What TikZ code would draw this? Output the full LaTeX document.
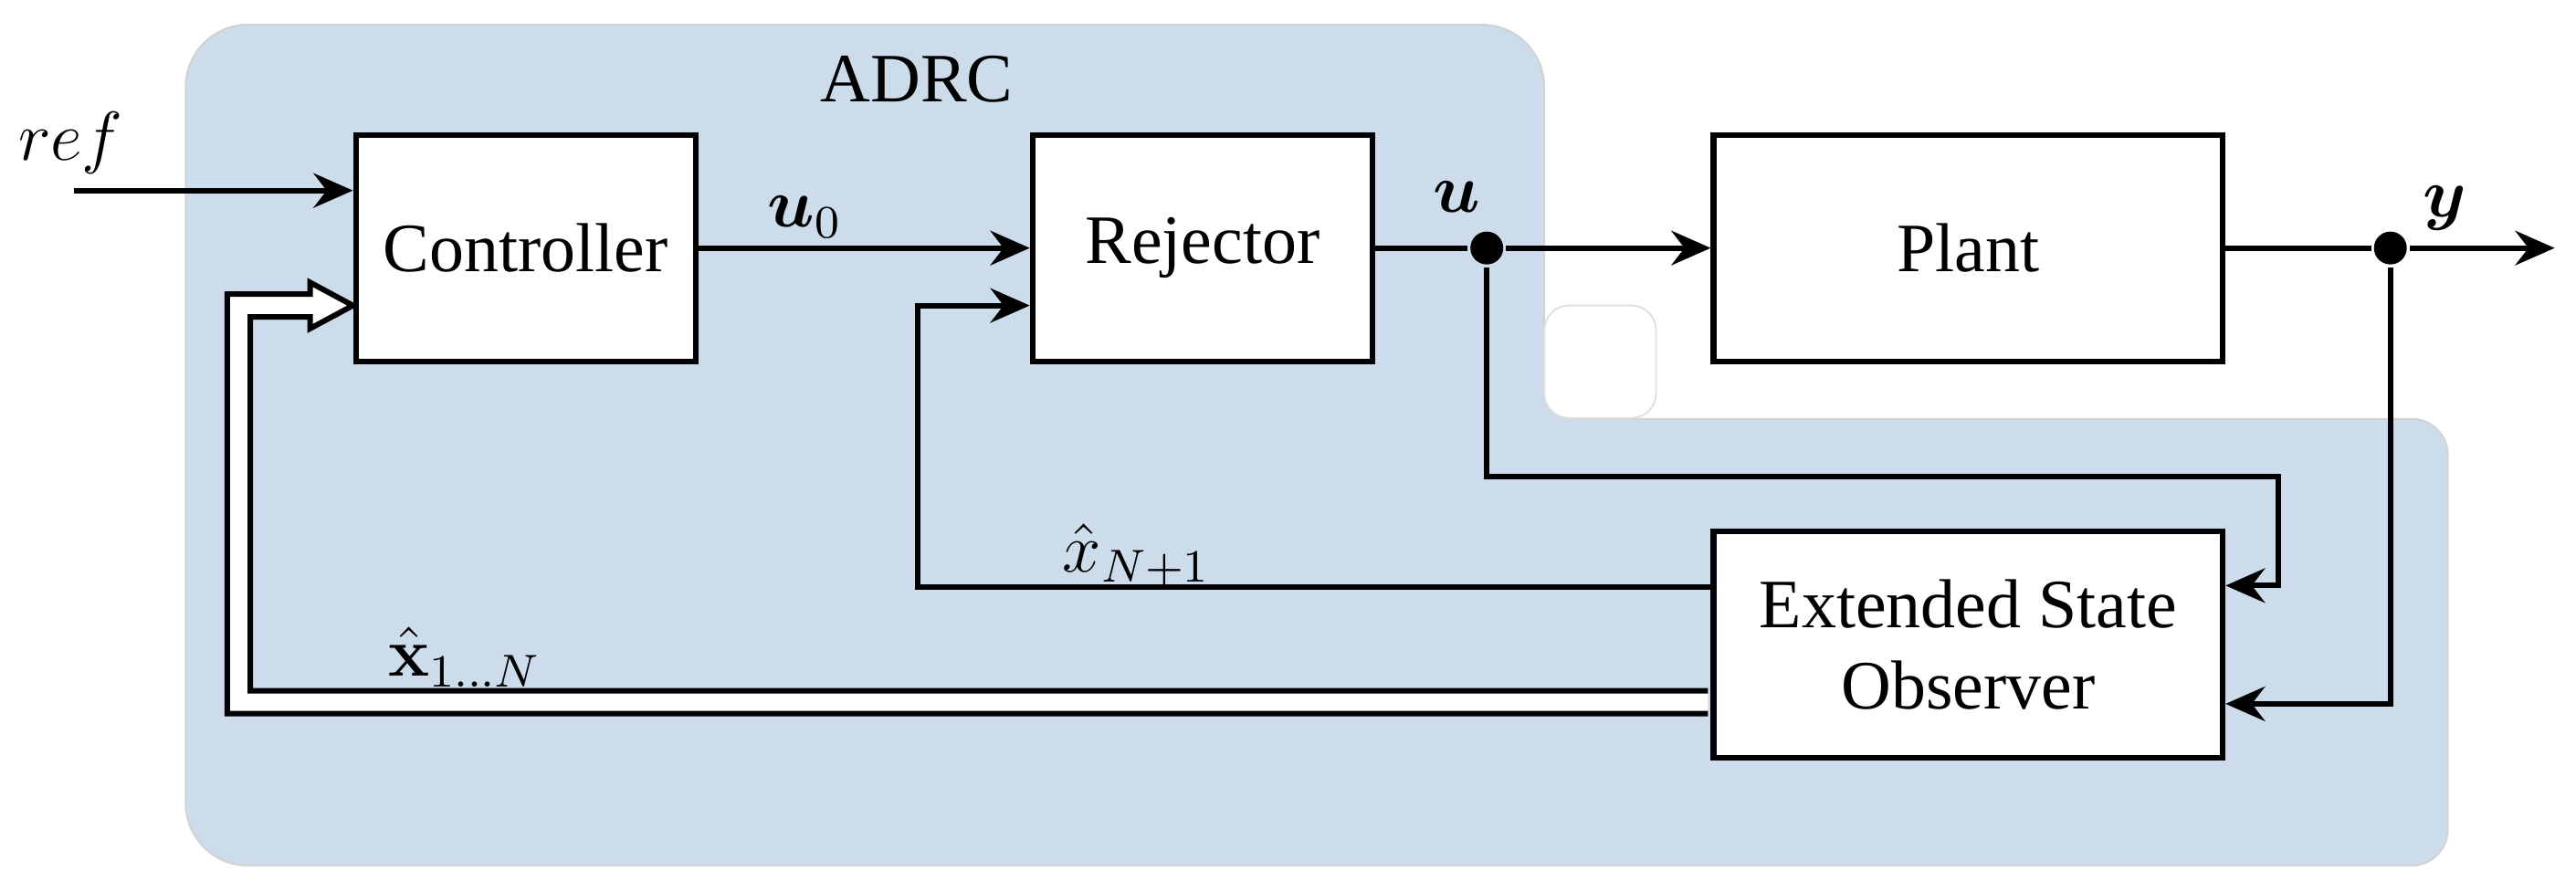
\documentclass[tikz,border=0pt]{standalone}
\usepackage[no-math]{fontspec}
\setmainfont{Liberation Serif}
\usepackage{amsmath,amssymb,bm}
\usepackage{xcolor}
\usepackage{tikz}
\usetikzlibrary{arrows.meta,positioning,calc}
\definecolor{adrcblue}{RGB}{204,220,234}

\begin{document}
\begin{tikzpicture}[
  >={Stealth[length=2.4mm,width=2.1mm,inset=0.8mm]},
  font=\fontsize{12}{14.2}\selectfont,
  line width=0.95pt,
  block/.style={draw, fill=white, line width=0.95pt, minimum height=1.38cm,
                minimum width=#1, align=center},
  dot/.style={circle, fill=black, inner sep=0pt, minimum size=0.2cm},
]
\useasboundingbox (0,0) rectangle (15.68,5.43);

%─── ADRC region ─────────────────────────────────────────────────────────────
\filldraw[fill=adrcblue, draw=gray!35, line width=0.3pt, rounded corners=0.38cm]
      (1.13,2.5) -- (1.13,5.28) -- (9.40,5.28) -- (9.40,3.3)
      [sharp corners] -- (9.40,2.88) [rounded corners=0.22cm] -- (14.90,2.88)
      -- (14.90,0.16) [rounded corners=0.38cm] -- (1.13,0.16) -- cycle;
% inner corner patch
\fill[adrcblue] (9.39,2.87) rectangle (9.58,3.06);
\filldraw[fill=white, draw=gray!25, line width=0.3pt, rounded corners=0.15cm]
      (9.40,2.885) rectangle (10.08,3.57);
\node (adrclbl) at (5.58,4.95) {ADRC};

%─── Blocks ──────────────────────────────────────────────────────────────────
\node[block=2.07cm] (ctrl)  at (3.20,3.92)  {Controller};
\node[block=2.07cm] (rej)   at (7.32,3.92)  {Rejector};
\node[block=3.10cm] (plant) at (11.98,3.92) {Plant};
\node[block=3.10cm] (eso)   at (11.98,1.505) {Extended State\\Observer};

% branch points and free ends
\node[dot] (udot) at (9.05,3.92) {};
\node[dot] (ydot) at (14.55,3.92) {};
\coordinate (refin) at (0.45,4.27);
\coordinate (yout)  at (15.55,3.92);

%─── Signal labels ───────────────────────────────────────────────────────────
\node (reflbl) at (0.43,4.56) {$ref$};
\node (u0lbl)  at (4.90,4.11) {$\bm{u}_0$};
\node (ulbl)   at (8.87,4.23) {$\bm{u}$};
\node (ylbl)   at (14.88,4.16) {$\bm{y}$};
\node (xnlbl)  at (6.92,2.05) {$\hat{x}_{N+1}$};
\node (xvlbl)  at (2.83,1.43) {$\hat{\mathbf{x}}_{1\ldots N}$};

%─── Forward path ────────────────────────────────────────────────────────────
\draw[->] (refin) -- (refin -| ctrl.west);
\draw[->] (ctrl) -- (rej);
\draw (rej) -- (udot);
\draw[->] (udot) -- (plant);
\draw (plant) -- (ydot);
\draw[->] (ydot) -- (yout);

%─── Observer inputs / outputs ───────────────────────────────────────────────
\draw[->] (udot) |- ($(eso.east)+(0.32,1.025)$) |- ($(eso.east)+(0,0.36)$);
\draw[->] (ydot) |- ($(eso.east)+(0,-0.36)$);
\draw[->] ($(eso.west)+(0,0.35)$) -| ($(rej.west)+(-0.68,-0.35)$)
      -- ($(rej.west)+(0,-0.35)$);

% state vector feedback (hollow double arrow)
\coordinate (fb)  at ($(ctrl.west)+(0,-0.35)$);
\coordinate (fbe) at ($(eso.west)+(-0.5pt,-0.35)$);
\filldraw[fill=white]
      ($(fbe)+(0,-0.07)$) -| ($(fb)+(-0.765,0.07)$)
      -- ($(fb)+(-0.26,0.07)$) -- ($(fb)+(-0.26,0.14)$) -- (fb)
      -- ($(fb)+(-0.26,-0.14)$) -- ($(fb)+(-0.26,-0.07)$)
      -- ($(fb)+(-0.625,-0.07)$) |- ($(fbe)+(0,0.07)$);

\end{tikzpicture}
\end{document}
